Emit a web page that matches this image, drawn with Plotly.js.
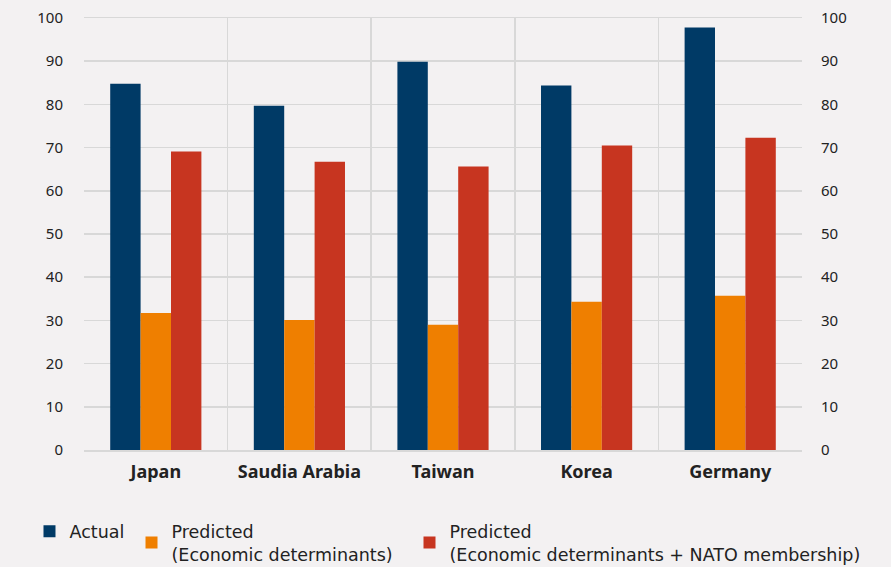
<!DOCTYPE html>
<html><head><meta charset="utf-8">
<script src="https://cdn.plot.ly/plotly-3.0.1.min.js"></script>
<style>body{margin:0;background:#f3f1f2}#chart{width:891px;height:567px}</style>
</head><body><div id="chart"></div>
<script>
const categories = ["Japan", "Saudia Arabia", "Taiwan", "Korea", "Germany"];
const actual = [84.8, 79.7, 89.9, 84.4, 97.8];
const predictedEconomic = [31.7, 30.1, 29.0, 34.3, 35.7];
const predictedNato = [69.1, 66.7, 65.6, 70.5, 72.3];
const seriesNames = ["Actual", "Predicted<br>(Economic determinants)", "Predicted<br>(Economic determinants + NATO membership)"];
const colors = ["#003a66", "#ef7f00", "#c73520"];
const yTicks = [0,10,20,30,40,50,60,70,80,90,100];
const legendIds = ["legend", "legend2", "legend3"];

const traces = [actual, predictedEconomic, predictedNato].map((v, i) => ({
  type: "bar", x: categories, y: v, name: seriesNames[i], legend: legendIds[i],
  marker: {color: colors[i], line: {width: 0}}
}));
// invisible companion trace so the right-hand axis is drawn
traces.push({type: "scatter", mode: "markers", x: categories, y: actual, yaxis: "y2",
  marker: {opacity: 0}, showlegend: false, hoverinfo: "skip"});

const FONT = "'Noto Sans', 'Open Sans', sans-serif";
const tickFont = {family: FONT, size: 15, color: "#222"};
const legendBase = (x) => ({orientation: "h", x: x, xref: "container", xanchor: "left",
  y: 0.0947, yref: "container", yanchor: "top",
  font: {family: "'DejaVu Sans', sans-serif", size: 17.5, color: "#222"},
  bgcolor: "rgba(0,0,0,0)", itemwidth: 30});
const layout = {
  width: 891, height: 567,
  paper_bgcolor: "#f3f1f2", plot_bgcolor: "#f3f1f2",
  margin: {l: 84, r: 89, t: 18, b: 117},
  barmode: "group", bargap: 0.365, bargroupgap: 0,
  showlegend: true,
  legend: legendBase(0.0331),
  legend2: legendBase(0.1476),
  legend3: legendBase(0.4596),
  xaxis: {type: "category", tickson: "boundaries", showgrid: true, gridcolor: "#d8d8d8", gridwidth: 1.5,
    ticks: "", tickfont: {family: FONT, size: 18, color: "#222", weight: "bold"}, tickangle: 0,
    ticklabelstandoff: 5, showline: true, linecolor: "#d8d8d8", linewidth: 1.5, mirror: true, zeroline: false},
  yaxis: {range: [0, 100], tickvals: yTicks, showgrid: true, gridcolor: "#d8d8d8", gridwidth: 1.5,
    zeroline: false, ticks: "", tickfont: tickFont, ticklabelstandoff: 20, showline: false},
  yaxis2: {range: [0, 100], tickvals: yTicks, overlaying: "y", side: "right", anchor: "x", showgrid: false,
    zeroline: false, ticks: "", tickfont: tickFont, ticklabelstandoff: 18, showline: false}
};
Plotly.newPlot("chart", traces, layout, {displayModeBar: false, staticPlot: true});
</script></body></html>
